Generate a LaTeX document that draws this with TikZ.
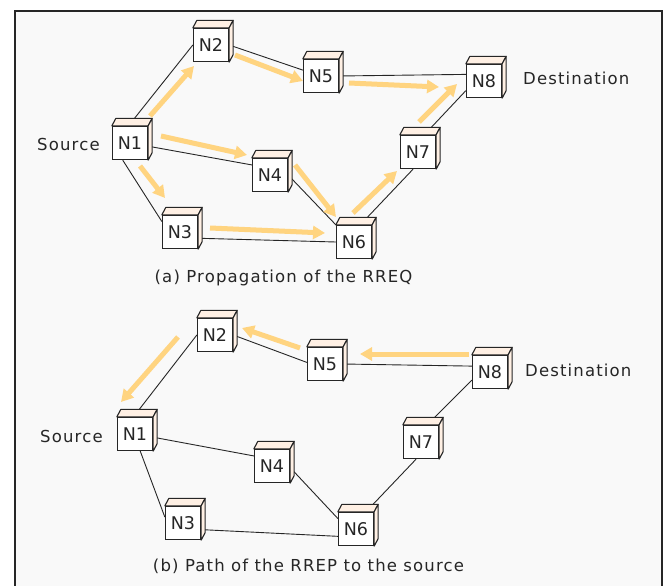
\documentclass[tikz,border=0pt]{standalone}
\usepackage{fontspec}
\setmainfont{DejaVu Sans}[LetterSpace=7]
\newfontfamily\boxfont{DejaVu Sans}
\usetikzlibrary{arrows.meta,calc}
\definecolor{panel}{HTML}{F9F9F9}
\definecolor{facecol}{HTML}{FFF0E4}
\definecolor{flowcol}{HTML}{FFD480}
\definecolor{ink}{HTML}{262626}
\tikzset{
  netnode/.style={draw=ink, line width=1.3pt, fill=white, minimum width=35pt,
    minimum height=33pt, inner sep=0pt, font=\boxfont\fontsize{17.5}{19}\selectfont, text=ink},
  boxface/.style={draw=ink, line width=1.1pt, fill=facecol, line join=round},
  link/.style={draw=black!85, line width=0.9pt},
  flow/.style={draw=flowcol, line width=5pt, -{Triangle[length=12pt,width=13pt]}},
  tag/.style={font=\fontsize{16.5}{18}\selectfont, text=ink, inner sep=0pt},
}
\begin{document}
\begin{tikzpicture}[x=1pt,y=-1pt]
\useasboundingbox (0,0) rectangle (665,586);
% panel and frame
\fill[panel] (14.5,11) rectangle (662,586);
\draw[line width=2pt, draw=black!85] (14.5,586) -- (14.5,11) -- (662,11) -- (662,586);

% ---- (a) network: propagation of the RREQ ----
\node[netnode] (a1) at (130,143) {N1};
\node[netnode] (a2) at (211,45)  {N2};
\node[netnode] (a3) at (180,232) {N3};
\node[netnode] (a4) at (270,175) {N4};
\node[netnode] (a5) at (321,76)  {N5};
\node[netnode] (a6) at (354,242) {N6};
\node[netnode] (a7) at (418,152) {N7};
\node[netnode] (a8) at (484,81)  {N8};

\draw[link] (a1.95) -- (a2.west);
\draw[link] (a2.east) -- (a5.162);
\draw[link] (a5.east) -- (a8.160);
\draw[link] (a7.70) -- (a8.208);
\draw[link] (a6.70) -- (a7.254);
\draw[link] (a4.east) -- (a6.north west);
\draw[link] (a3.-19) -- (a6.west);
\draw[link] (a1.-10) -- (a4.151);
\draw[link] (a1.247) -- (a3.150);

% ---- (b) network: path of the RREP ----
\node[netnode] (b1) at (135,434) {N1};
\node[netnode] (b2) at (215,335) {N2};
\node[netnode] (b3) at (183,523) {N3};
\node[netnode] (b4) at (272,466) {N4};
\node[netnode] (b5) at (325,364) {N5};
\node[netnode] (b6) at (356,529) {N6};
\node[netnode] (b7) at (421,442) {N7};
\node[netnode] (b8) at (490,372) {N8};

\draw[link] (b1.95) -- (b2.west);
\draw[link] (b2.east) -- (b5.175);
\draw[link] (b5.east) -- (b8.162);
\draw[link] (b8.204) -- (b7.70);
\draw[link] (b7.254) -- (b6.60);
\draw[link] (b4.-5) -- (b6.150);
\draw[link] (b3.-20) -- (b6.202);
\draw[link] (b1.-10) -- (b4.151);
\draw[link] (b1.287) -- (b3.162);

% top and side faces of every box
\foreach \n in {a1,a2,a3,a4,a5,a6,a7,a8,b1,b2,b3,b4,b5,b6,b7,b8} {
  \draw[boxface] (\n.north west) -- ++(4,-7.5) -- ([shift={(4,-7.5)}]\n.north east)
    -- (\n.north east) -- cycle;
  \draw[boxface] (\n.north east) -- ++(4,-7.5) -- ([shift={(4,-7.5)}]\n.south east)
    -- (\n.south east) -- cycle;
}

% RREQ flooding
\draw[flow] ([shift={(20,-27)}]a1.center) -- ([shift={(-17,21)}]a2.center);
\draw[flow] ([shift={(24,10)}]a2.center) -- ([shift={(-18,5)}]a5.center);
\draw[flow] ([shift={(28,7)}]a5.center) -- ([shift={(-45,6)}]a8.center);
\draw[flow] ([shift={(1,-30)}]a7.center) -- ([shift={(-27,3)}]a8.center);
\draw[flow] ([shift={(-1,-29)}]a6.center) -- ([shift={(-21,19)}]a7.center);
\draw[flow] ([shift={(25,-10)}]a4.center) -- ([shift={(-18,-25)}]a6.center);
\draw[flow] ([shift={(30,-4)}]a3.center) -- ([shift={(-29,-9)}]a6.center);
\draw[flow] ([shift={(31,-7)}]a1.center) -- ([shift={(-23,-20)}]a4.center);
\draw[flow] ([shift={(10,23)}]a1.center) -- ([shift={(-15,-34)}]a3.center);

% RREP back to the source
\draw[flow] ([shift={(-21,-18)}]b8.center) -- ([shift={(35,-10)}]b5.center);
\draw[flow] ([shift={(-25,-16)}]b5.center) -- ([shift={(27,-7)}]b2.center);
\draw[flow] ([shift={(-37,2)}]b2.center) -- ([shift={(-14,-32)}]b1.center);

% labels
\node[tag, anchor=west] (srcA) at (37,144) {Source};
\node[tag, anchor=west] (dstA) at (523,78) {Destination};
\node[tag, anchor=west] (srcB) at (40,436) {Source};
\node[tag, anchor=west] (dstB) at (525,370) {Destination};
\node[tag, anchor=base] (capA) at (283.5,282) {(a) Propagation of the RREQ};
\node[tag, anchor=base] (capB) at (308.5,571) {(b) Path of the RREP to the source};
\end{tikzpicture}
\end{document}
